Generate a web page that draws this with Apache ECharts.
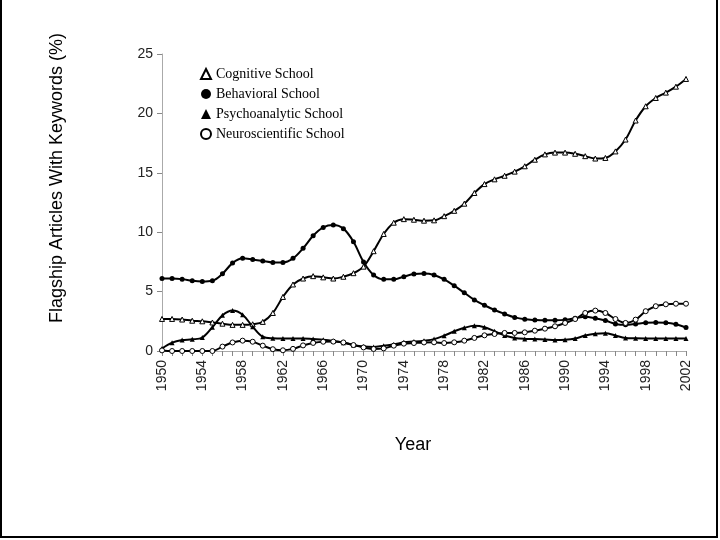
<!DOCTYPE html>
<html>
<head>
<meta charset="utf-8">
<script src="https://cdn.jsdelivr.net/npm/echarts@6/dist/echarts.min.js"></script>
<style>html,body{margin:0;padding:0;background:#fff}#c{width:720px;height:540px}</style>
</head>
<body>
<div id="c"></div>
<script>
var years = [];
for (var y = 1950; y <= 2002; y++) years.push(String(y));

var cognitive = [2.7,2.7,2.65,2.55,2.5,2.4,2.3,2.2,2.2,2.25,2.45,3.2,4.55,5.6,6.1,6.3,6.2,6.1,6.25,6.55,7.1,8.4,9.85,10.8,11.1,11.05,10.97,11.0,11.35,11.8,12.4,13.3,14.05,14.45,14.75,15.1,15.55,16.1,16.55,16.7,16.7,16.6,16.4,16.2,16.25,16.8,17.8,19.4,20.6,21.3,21.75,22.25,22.9];
var behavioral = [6.1,6.1,6.05,5.92,5.86,5.92,6.5,7.4,7.8,7.7,7.58,7.46,7.46,7.8,8.65,9.7,10.4,10.6,10.3,9.2,7.5,6.4,6.03,6.03,6.26,6.48,6.52,6.4,6.03,5.5,4.9,4.3,3.85,3.45,3.12,2.83,2.67,2.61,2.58,2.58,2.62,2.75,2.89,2.75,2.56,2.28,2.2,2.28,2.38,2.4,2.38,2.25,1.98];
var psychoanalytic = [0.2,0.7,0.92,0.98,1.13,2.0,3.0,3.4,3.05,2.05,1.2,1.07,1.05,1.05,1.05,1.0,0.95,0.85,0.7,0.5,0.37,0.33,0.45,0.55,0.73,0.79,0.87,1.0,1.29,1.66,1.95,2.12,2.0,1.66,1.3,1.1,1.02,1.0,0.97,0.93,0.95,1.05,1.3,1.45,1.5,1.3,1.1,1.07,1.06,1.06,1.06,1.06,1.06];
var neuroscientific = [0.05,0,0,0,0,0,0.37,0.72,0.87,0.78,0.45,0.15,0.06,0.18,0.47,0.68,0.78,0.79,0.72,0.5,0.3,0.17,0.22,0.45,0.62,0.67,0.72,0.73,0.67,0.73,0.87,1.1,1.32,1.43,1.52,1.52,1.57,1.71,1.88,2.08,2.36,2.69,3.2,3.4,3.2,2.69,2.36,2.64,3.35,3.77,3.93,3.98,3.98];

var yTicks = [0,5,10,15,20,25];

function mk(name, data, symbol, open) {
  return {
    name: name, type: 'line', data: data, smooth: 0.35,
    symbol: symbol, symbolSize: 5,
    lineStyle: {color: '#000', width: 2},
    itemStyle: open ? {color: '#fff', borderColor: '#000', borderWidth: 1} : {color: '#000', borderColor: '#000', borderWidth: 0},
    emphasis: {disabled: true},
    z: 2
  };
}

var chart = echarts.init(document.getElementById('c'));
chart.setOption({
  animation: false,
  backgroundColor: '#fff',
  grid: {left: 162, right: 34, top: 54, bottom: 189, containLabel: false},
  legend: {
    orient: 'vertical', left: 195, top: 62,
    itemWidth: 10, itemHeight: 10, itemGap: 6,
    textStyle: {fontFamily: 'Liberation Serif', fontSize: 14, color: '#000', lineHeight: 14},
    data: [
      {name: 'Cognitive School', icon: 'triangle', itemStyle: {color: '#fff', borderColor: '#000', borderWidth: 2}},
      {name: 'Behavioral School', icon: 'circle', itemStyle: {color: '#000'}},
      {name: 'Psychoanalytic School', icon: 'triangle', itemStyle: {color: '#000'}},
      {name: 'Neuroscientific School', icon: 'circle', itemStyle: {color: '#fff', borderColor: '#000', borderWidth: 2}}
    ]
  },
  xAxis: {
    type: 'category', data: years, boundaryGap: false,
    axisLine: {lineStyle: {color: '#aaa', width: 1}},
    axisTick: {show: true, interval: 0, length: 5, lineStyle: {color: '#888'}},
    axisLabel: {interval: 3, rotate: 90, fontFamily: 'Liberation Sans', fontSize: 14, color: '#222', margin: 9},
    splitLine: {show: false}
  },
  yAxis: {
    type: 'value', min: 0, max: 25, interval: 5,
    axisLine: {show: true, lineStyle: {color: '#aaa', width: 1}},
    axisTick: {show: true, length: 5, lineStyle: {color: '#888'}},
    axisLabel: {fontFamily: 'Liberation Sans', fontSize: 14, color: '#222', margin: 9,
      formatter: function (v) { return yTicks.indexOf(v) >= 0 ? String(v) : ''; }},
    splitLine: {show: false}
  },
  graphic: [
    {type: 'text', x: 57, y: 178, rotation: Math.PI / 2,
      style: {text: 'Flagship Articles With Keywords (%)', font: '18px "Liberation Sans"', fill: '#000', align: 'center', verticalAlign: 'middle'}},
    {type: 'text', x: 413, y: 445,
      style: {text: 'Year', font: '18px "Liberation Sans"', fill: '#000', align: 'center', verticalAlign: 'middle'}},
    {type: 'line', shape: {x1: 1, y1: 0, x2: 1, y2: 538}, style: {stroke: '#000', lineWidth: 2}},
    {type: 'line', shape: {x1: 717, y1: 0, x2: 717, y2: 538}, style: {stroke: '#000', lineWidth: 2}},
    {type: 'line', shape: {x1: 0, y1: 537, x2: 718, y2: 537}, style: {stroke: '#000', lineWidth: 2}}
  ],
  series: [
    mk('Cognitive School', cognitive, 'triangle', true),
    mk('Behavioral School', behavioral, 'circle', false),
    mk('Psychoanalytic School', psychoanalytic, 'triangle', false),
    mk('Neuroscientific School', neuroscientific, 'circle', true)
  ]
});
</script>
</body>
</html>
